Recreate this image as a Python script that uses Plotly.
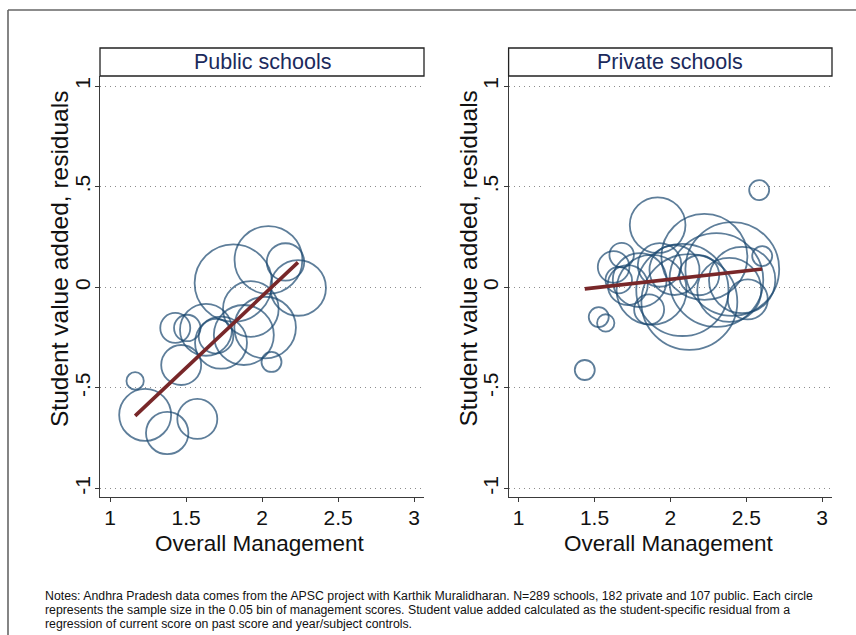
import plotly.graph_objects as go

W, H = 856, 635

# ---- data -------------------------------------------------------------
# Public schools: bin-average management score, value-added residual, bin size
pub_mgmt = [1.165, 1.231, 1.376, 1.574, 1.468, 1.429, 1.508, 1.631, 1.730,
            1.697, 1.880, 1.926, 2.020, 1.811, 2.042, 2.154, 2.237, 2.062]
pub_va = [-0.465, -0.634, -0.724, -0.654, -0.386, -0.202, -0.202, -0.211, -0.275,
          -0.243, -0.237, -0.108, -0.200, 0.021, 0.136, 0.126, -0.003, -0.371]
pub_n = [3, 27, 18, 16, 16, 9, 7, 27, 27,
         12, 36, 31, 38, 60, 46, 14, 31, 4]
pub_fit_x = [1.165, 2.236]
pub_fit_y = [-0.639, 0.124]

# Private schools
priv_mgmt = [1.436, 1.528, 1.574, 1.626, 1.679, 1.916, 2.585, 2.605,
             2.224, 2.408, 2.125, 2.079, 1.876, 1.798, 2.303, 2.388, 2.473,
             1.719, 1.929, 2.027, 2.190, 2.510, 1.860, 1.660]
priv_va = [-0.411, -0.148, -0.177, 0.101, 0.160, 0.309, 0.483, 0.155,
           0.151, 0.091, -0.073, -0.013, -0.013, 0.036, 0.036, -0.013, 0.036,
           0.011, 0.111, 0.086, 0.060, -0.060, -0.110, 0.036]
priv_n = [4, 4, 3, 10, 6, 31, 4, 4,
          74, 88, 92, 85, 49, 29, 88, 41, 44,
          16, 19, 25, 16, 16, 9, 7]
priv_fit_x = [1.436, 2.605]
priv_fit_y = [-0.008, 0.091]

panel_titles = ["Public schools", "Private schools"]
x_tickvals = [1, 1.5, 2, 2.5, 3]
x_ticktext = ["1", "1.5", "2", "2.5", "3"]
y_tickvals = [-1, -0.5, 0, 0.5, 1]
y_ticktext = ["-1", "-.5", "0", ".5", "1"]
x_title = "Overall Management"
y_title = "Student value added, residuals"
notes = [
    "Notes: Andhra Pradesh data comes from the APSC project with Karthik Muralidharan. "
    "N=289 schools, 182 private and 107 public. Each circle",
    "represents the sample size in the 0.05 bin of management scores. Student value added "
    "calculated as the student-specific residual from a",
    "regression of current score on past score and year/subject controls.",
]

# ---- styling ------------------------------------------------------------
FONT = "Liberation Sans"
NAVY = "#1a476f"
MAROON = "#782729"
AXIS = "#3a3a3a"
TEXT = "#111111"


def px_x(p):
    return p / W


def px_y(p):
    return 1 - p / H


panels = [
    dict(left=100, right=424, mgmt=pub_mgmt, va=pub_va, n=pub_n,
         fx=pub_fit_x, fy=pub_fit_y, title=panel_titles[0]),
    dict(left=508.6, right=832, mgmt=priv_mgmt, va=priv_va, n=priv_n,
         fx=priv_fit_x, fy=priv_fit_y, title=panel_titles[1]),
]
TOP, BOTTOM = 76, 497
STRIP_TOP = 48

fig = go.Figure()
shapes = []
annotations = []

for i, p in enumerate(panels):
    xa = "x" if i == 0 else f"x{i + 1}"
    ya = "y" if i == 0 else f"y{i + 1}"
    fig.add_trace(go.Scatter(
        x=p["mgmt"], y=p["va"], mode="markers", xaxis=xa, yaxis=ya,
        marker=dict(symbol="circle-open", size=p["n"], sizemode="area",
                    sizeref=0.02, color=NAVY, line=dict(width=1.8, color=NAVY)),
        showlegend=False, hoverinfo="x+y",
    ))
    fig.add_trace(go.Scatter(
        x=p["fx"], y=p["fy"], mode="lines", xaxis=xa, yaxis=ya,
        line=dict(color=MAROON, width=3.6), showlegend=False,
    ))

    axis_common = dict(
        showline=True, linecolor=AXIS, linewidth=1.2, mirror=False,
        ticks="outside", ticklen=4, tickcolor=AXIS, tickwidth=1.2,
        zeroline=False, tickfont=dict(family=FONT, size=21, color=TEXT),
    )
    fig.layout[("xaxis" if i == 0 else f"xaxis{i + 1}")] = dict(
        domain=[px_x(p["left"]), px_x(p["right"])],
        range=[0.934, 3.065], anchor=ya,
        tickvals=x_tickvals, ticktext=x_ticktext, showgrid=False,
        ticklabelstandoff=-2,
        **axis_common,
    )
    fig.layout[("yaxis" if i == 0 else f"yaxis{i + 1}")] = dict(
        domain=[px_y(BOTTOM), px_y(TOP)],
        range=[-1.042, 1.050], anchor=xa,
        tickvals=y_tickvals, ticktext=y_ticktext, tickangle=-90,
        ticklabelstandoff=-3,
        showgrid=True, gridcolor="#8c8c8c", griddash="1px,4px", gridwidth=1,
        **axis_common,
    )

    # axis titles
    annotations.append(dict(
        text=x_title, xref="paper", yref="paper",
        x=px_x(p["left"] + 160), y=px_y(543), xanchor="center", yanchor="middle",
        showarrow=False, font=dict(family=FONT, size=22.5, color=TEXT),
    ))
    annotations.append(dict(
        text=y_title, xref="paper", yref="paper", textangle=-90,
        x=px_x(p["left"] - 41), y=px_y(259), xanchor="center", yanchor="middle",
        showarrow=False, font=dict(family=FONT, size=24.5, color=TEXT),
    ))

    # panel title strip
    shapes.append(dict(
        type="rect", xref="paper", yref="paper",
        x0=px_x(p["left"]), x1=px_x(p["right"]),
        y0=px_y(TOP), y1=px_y(STRIP_TOP),
        line=dict(color="#222", width=1.3), fillcolor="white", layer="above",
    ))
    annotations.append(dict(
        text=p["title"], xref="paper", yref="paper",
        x=px_x((p["left"] + p["right"]) / 2), y=px_y((TOP + STRIP_TOP) / 2),
        xanchor="center", yanchor="middle", showarrow=False,
        font=dict(family=FONT, size=21.5, color="#1b2a5c"),
    ))

# outer frame (left and top edges)
shapes.append(dict(type="line", xref="paper", yref="paper",
                   x0=px_x(8), x1=1.01, y0=px_y(10), y1=px_y(10),
                   line=dict(color="#666", width=1.6)))
shapes.append(dict(type="line", xref="paper", yref="paper",
                   x0=px_x(8), x1=px_x(8), y0=px_y(10), y1=-0.01,
                   line=dict(color="#666", width=1.6)))

# notes block
for k, line in enumerate(notes):
    annotations.append(dict(
        text=line, xref="paper", yref="paper",
        x=px_x(43), y=px_y(596 + 14 * k), xanchor="left", yanchor="middle",
        showarrow=False, font=dict(family=FONT, size=12.3, color=TEXT),
    ))

fig.update_layout(
    width=W, height=H, margin=dict(l=0, r=0, t=0, b=0),
    paper_bgcolor="white", plot_bgcolor="white",
    shapes=shapes, annotations=annotations,
)

fig.write_html("out.html")
